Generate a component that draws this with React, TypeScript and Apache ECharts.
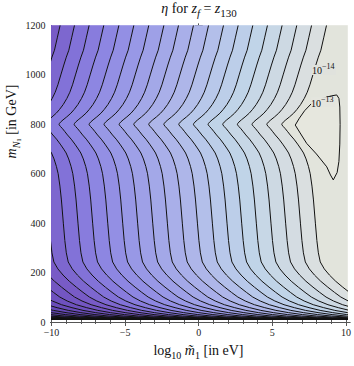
import React, { useEffect, useRef } from "react";
import * as echarts from "echarts";

// m_N1 samples (GeV) along each contour, top to bottom
const mSamples = [1200, 1150, 1100, 1072, 1040, 1000, 960, 930, 905, 880, 860, 845, 830, 818, 809, 803, 800, 797, 791, 782, 770, 757, 740, 720, 700, 684, 660, 630, 600, 550, 494, 400, 330, 280, 243, 215, 190, 165, 141, 120, 101, 85, 70, 58, 47, 38, 30, 24, 20, 17, 15, 13, 12, 11, 10];
// x-shift (in log10 m1) of the contour shape at each sample, relative to its crossing of m = 1200
const shapeShift = [0, -0.19, -0.38, -0.55, -0.72, -0.92, -1.12, -1.3, -1.5, -1.75, -2.0, -2.22, -2.5, -2.75, -2.92, -3.0, -3.02, -3.0, -2.92, -2.78, -2.62, -2.45, -2.2, -1.95, -1.72, -1.55, -1.38, -1.22, -1.1, -0.98, -0.88, -0.75, -0.65, -0.55, -0.42, -0.15, 0.2, 0.62, 1.1, 1.55, 1.98, 2.48, 3.1, 3.8, 4.55, 5.4, 6.35, 7.3, 8.3, 9.4, 10.6, 12.3, 13.5, 15, 17];
// where each open contour meets m = 1200 (those below -10 lie off the chart)
const topCross = [-26.42, -25.42, -24.42, -23.42, -22.42, -21.42, -20.42, -19.42, -18.42, -17.42, -16.42, -15.42, -14.42, -13.42, -12.42, -11.42, -10.42, -9.42, -8.45, -7.46, -6.47, -5.45, -4.44, -3.43, -2.41, -1.42, -0.41, 0.61, 1.62, 2.61, 3.6, 4.59, 5.58, 6.57, 7.57, 8.58];
// closed 10^-13 contour
const loopX = [6.47, 6.75, 7.1, 7.58, 8.3, 8.9, 9.27, 9.42, 9.48, 9.5, 9.48, 9.42, 9.3, 9.04, 8.85, 8.6, 7.9, 7.24, 6.8, 6.47];
const loopY = [797, 825, 855, 885, 905, 915, 919, 905, 870, 800, 720, 650, 605, 575, 595, 628, 680, 723, 765, 797];
// contour labels
const labelText = ["−14", "−13"];
const labelX = [8.41, 8.35];
const labelY = [1020, 890];
// ticks
const xMajor = [-10, -5, 0, 5, 10];
const xMinor = [-9, -8, -7, -6, -4, -3, -2, -1, 1, 2, 3, 4, 6, 7, 8, 9];
const yMajor = [0, 200, 400, 600, 800, 1000, 1200];
const yMinor = [50, 100, 150, 250, 300, 350, 450, 500, 550, 650, 700, 750, 850, 900, 950, 1050, 1100, 1150];

const colorStops: [number, string][] = [
  [-16, "#3f2585"], [-8, "#55399f"], [-4, "#6548b5"], [-1, "#7356c2"], [0, "#785bc6"], [2, "#8272d8"],
  [4, "#8d86e2"], [6, "#9898e6"], [8, "#a3a8e8"], [10, "#aeb6e9"], [12, "#b8c8ea"],
  [14, "#c0d4e8"], [16, "#cdd9e3"], [18, "#dadfe0"], [19, "#e2e4dc"],
];
const LOOP_FILL = "#e6e7de";

function hex(c: string) { return [1, 3, 5].map((i) => parseInt(c.slice(i, i + 2), 16)); }
function bandColor(r: number) {
  if (r <= colorStops[0][0]) return colorStops[0][1];
  for (let i = 1; i < colorStops.length; i++) {
    const [r1, c1] = colorStops[i];
    const [r0, c0] = colorStops[i - 1];
    if (r <= r1) {
      const t = (r - r0) / (r1 - r0);
      const a = hex(c0), b = hex(c1);
      return `rgb(${a.map((v, k) => Math.round(v + (b[k] - v) * t)).join(",")})`;
    }
  }
  return colorStops[colorStops.length - 1][1];
}

const FONT = "'Liberation Serif', 'Times New Roman', serif";
const XS = 14.8; // px per unit
const YS = 0.2471; // px per GeV
const DATA = { left: 51.5, top: 25.5, right: 347.5, bottom: 322 - 10 * YS };
const FRAME = { left: 50.5, top: 24, width: 301, height: 300 };
const xFMin = -10 - (DATA.left - FRAME.left) / XS;
const xFMax = xFMin + FRAME.width / XS;
const yFMin = -(FRAME.top + FRAME.height - 322) / YS;
const yFMax = yFMin + FRAME.height / YS;

type Piece = { s: string; size: number; it?: boolean; dy?: number };
const fontOf = (p: Piece) => `${p.it ? "italic " : ""}${p.size}px ${FONT}`;

// lay out a run of text pieces (with sub-/superscripts) centred on cx, baseline at base (local coords)
function layout(pieces: Piece[], cx: number, base: number) {
  const ctx = document.createElement("canvas").getContext("2d")!;
  const widths = pieces.map((p) => { ctx.font = fontOf(p); return ctx.measureText(p.s).width; });
  const total = widths.reduce((a, b) => a + b, 0);
  let x = cx - total / 2;
  return pieces.map((p, i) => {
    const el = {
      type: "text", x, y: base + (p.dy || 0) - 0.33 * p.size,
      style: { text: p.s, font: fontOf(p), fill: "#111", verticalAlign: "middle" },
    };
    x += widths[i];
    return el;
  });
}

export default function App() {
  const ref = useRef<HTMLDivElement>(null);
  useEffect(() => {
    const chart = echarts.init(ref.current!, null, { renderer: "svg" });
    const contours = topCross.map((x0) => shapeShift.map((s) => x0 + s));
    const firstIdx = topCross.indexOf(-9.42);
    const clamp = (v: number) => Math.max(-10, Math.min(10, v));
    const nb = contours.length + 1;

    const bandSeries: any = {
      type: "custom",
      xAxisIndex: 0,
      yAxisIndex: 0,
      silent: true,
      z: 1,
      data: Array.from({ length: nb }, (_, i) => [i, 0]),
      renderItem: (params: any, api: any) => {
        const i = params.dataIndex;
        const pts: number[][] = [];
        for (let j = 0; j < mSamples.length; j++) {
          const x = i === 0 ? -10 : clamp(contours[i - 1][j]);
          pts.push(api.coord([x, mSamples[j]]));
        }
        for (let j = mSamples.length - 1; j >= 0; j--) {
          const x = i === nb - 1 ? 10 : clamp(contours[i][j]);
          pts.push(api.coord([x, mSamples[j]]));
        }
        const col = bandColor(i - firstIdx);
        return { type: "polygon", shape: { points: pts }, style: { fill: col, stroke: col, lineWidth: 0.6 } };
      },
    };

    const loopSeries: any = {
      type: "custom",
      xAxisIndex: 0,
      yAxisIndex: 0,
      silent: true,
      z: 4,
      data: [[0, 0]],
      renderItem: (_p: any, api: any) => ({
        type: "polygon",
        shape: { points: loopX.map((x, k) => api.coord([x, loopY[k]])) },
        style: { fill: LOOP_FILL, stroke: "#111", lineWidth: 1, lineJoin: "round" },
      }),
    };

    const lineSeries = contours.map((c) => ({
      type: "line",
      xAxisIndex: 0,
      yAxisIndex: 0,
      data: c.map((x, j) => [x, mSamples[j]]),
      showSymbol: false,
      silent: true,
      clip: true,
      z: 3,
      lineStyle: { color: "#111", width: 1 },
    }));

    const labelSeries: any = {
      type: "custom",
      xAxisIndex: 0,
      yAxisIndex: 0,
      silent: true,
      z: 5,
      data: labelX.map((x, k) => [x, labelY[k]]),
      renderItem: (params: any, api: any) => {
        const k = params.dataIndex;
        const p = api.coord([labelX[k], labelY[k]]);
        return {
          type: "group",
          children: [
            { type: "rect", shape: { x: p[0] - 12, y: p[1] - 5, width: 24, height: 10 }, style: { fill: k === 0 ? "#e0e2dd" : "#e4e5de" } },
            { type: "text", x: p[0] - 12, y: p[1] + 1, style: { text: "10", font: `10px ${FONT}`, fill: "#111", verticalAlign: "middle" } },
            { type: "text", x: p[0] - 2, y: p[1] - 3, style: { text: labelText[k], font: `8px ${FONT}`, fill: "#111", verticalAlign: "middle" } },
          ],
        };
      },
    };

    const axisCommon = (gridIndex: number, min: number, max: number) => ({ gridIndex, min, max, type: "value" as const, splitLine: { show: false } });
    const tickColor = "#555";
    const xAxes: any[] = [
      { ...axisCommon(0, -10, 10), show: false },
      { ...axisCommon(1, xFMin, xFMax), position: "bottom", axisLine: { show: true, lineStyle: { color: tickColor } },
        axisTick: { show: true, inside: true, length: 4, customValues: xMajor, lineStyle: { color: tickColor } },
        axisLabel: { show: true, customValues: xMajor, fontFamily: FONT, fontSize: 10, color: "#222", margin: 3, formatter: (v: number) => (v < 0 ? "−" + Math.abs(v) : String(v)) } },
      { ...axisCommon(1, xFMin, xFMax), position: "bottom", axisLine: { show: false },
        axisTick: { show: true, inside: true, length: 2, customValues: xMinor, lineStyle: { color: tickColor } }, axisLabel: { show: false } },
      { ...axisCommon(1, xFMin, xFMax), position: "top", axisLine: { show: true, lineStyle: { color: tickColor } },
        axisTick: { show: true, inside: true, length: 4, customValues: xMajor, lineStyle: { color: tickColor } }, axisLabel: { show: false } },
      { ...axisCommon(1, xFMin, xFMax), position: "top", axisLine: { show: false },
        axisTick: { show: true, inside: true, length: 2, customValues: xMinor, lineStyle: { color: tickColor } }, axisLabel: { show: false } },
    ];
    const yAxes: any[] = [
      { ...axisCommon(0, 10, 1200), show: false },
      { ...axisCommon(1, yFMin, yFMax), position: "left", axisLine: { show: true, lineStyle: { color: tickColor } },
        axisTick: { show: true, inside: true, length: 4, customValues: yMajor, lineStyle: { color: tickColor } },
        axisLabel: { show: true, customValues: yMajor, fontFamily: FONT, fontSize: 10, color: "#222", margin: 5, formatter: (v: number) => String(v) } },
      { ...axisCommon(1, yFMin, yFMax), position: "left", axisLine: { show: false },
        axisTick: { show: true, inside: true, length: 2, customValues: yMinor, lineStyle: { color: tickColor } }, axisLabel: { show: false } },
      { ...axisCommon(1, yFMin, yFMax), position: "right", axisLine: { show: true, lineStyle: { color: tickColor } },
        axisTick: { show: true, inside: true, length: 4, customValues: yMajor, lineStyle: { color: tickColor } }, axisLabel: { show: false } },
      { ...axisCommon(1, yFMin, yFMax), position: "right", axisLine: { show: false },
        axisTick: { show: true, inside: true, length: 2, customValues: yMinor, lineStyle: { color: tickColor } }, axisLabel: { show: false } },
    ];

    const title = layout([
      { s: "η", size: 14, it: true }, { s: " for ", size: 14 }, { s: "z", size: 14, it: true },
      { s: "f", size: 11, it: true, dy: 3.5 }, { s: " = ", size: 14 }, { s: "z", size: 14, it: true },
      { s: "130", size: 11, dy: 3.5 },
    ], 199, 13);
    const xLabel = layout([
      { s: "log", size: 14 }, { s: "10", size: 10, dy: 3.5 }, { s: " ", size: 14 },
      { s: "m\u0303", size: 14, it: true }, { s: "1", size: 10, dy: 3.5 }, { s: " [in eV]", size: 14 },
    ], 198.5, 355);
    const yLabel = layout([
      { s: "m", size: 14, it: true }, { s: "N", size: 10, it: true, dy: 3 }, { s: "1", size: 7, dy: 5 },
      { s: " [in GeV]", size: 14 },
    ], 0, 0);

    chart.setOption({
      animation: false,
      grid: [
        { left: DATA.left, top: DATA.top, width: DATA.right - DATA.left, height: DATA.bottom - DATA.top },
        { left: FRAME.left, top: FRAME.top, width: FRAME.width, height: FRAME.height },
      ],
      xAxis: xAxes,
      yAxis: yAxes,
      series: [bandSeries, ...lineSeries, loopSeries, labelSeries],
      graphic: [
        ...title,
        ...xLabel,
        { type: "group", x: 16.5, y: 121.5, rotation: Math.PI / 2, children: yLabel },
      ],
    });
    return () => chart.dispose();
  }, []);
  return <div ref={ref} style={{ position: "fixed", left: 0, top: 0, width: 354, height: 366, background: "#fff" }} />;
}
